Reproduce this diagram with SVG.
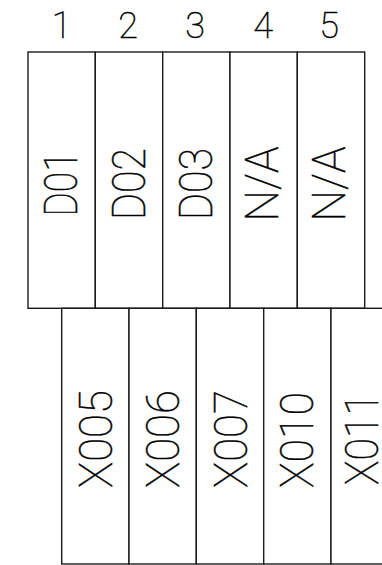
<svg xmlns="http://www.w3.org/2000/svg" width="382" height="565" viewBox="0 0 382 565">
<style>
.box{fill:#fff;stroke:#1a1a1a;stroke-width:1.4}
.num{font-family:Roboto,"Liberation Sans",sans-serif;font-weight:100;font-size:36px;fill:#000;stroke:#000;stroke-width:0.5;text-anchor:middle}
.lbl{font-family:Roboto,"Liberation Sans",sans-serif;font-weight:100;font-size:46px;fill:#000;stroke:#000;stroke-width:0.5;text-anchor:middle}
</style>
<rect width="382" height="565" fill="#fff"/>
<g id="numbers">
<text class="num" x="61.7" y="38">1</text>
<text class="num" x="128" y="38">2</text>
<text class="num" x="195" y="38">3</text>
<text class="num" x="263" y="38">4</text>
<text class="num" x="329" y="38">5</text>
</g>
<g id="top1"><rect class="box" x="28" y="52" width="67.3" height="256.3"/><text class="lbl" transform="translate(77.3 184) rotate(-90)" textLength="65" lengthAdjust="spacingAndGlyphs">D01</text></g>
<g id="top2"><rect class="box" x="95.3" y="52" width="67.4" height="256.3"/><text class="lbl" transform="translate(145 184) rotate(-90)" textLength="72" lengthAdjust="spacingAndGlyphs">D02</text></g>
<g id="top3"><rect class="box" x="162.7" y="52" width="67.3" height="256.3"/><text class="lbl" transform="translate(211.7 184) rotate(-90)" textLength="72" lengthAdjust="spacingAndGlyphs">D03</text></g>
<g id="top4"><rect class="box" x="230" y="52" width="67.3" height="256.3"/><text class="lbl" transform="translate(278.3 184) rotate(-90)" textLength="75" lengthAdjust="spacingAndGlyphs">N/A</text></g>
<g id="top5"><rect class="box" x="297.3" y="52" width="67.4" height="256.3"/><text class="lbl" transform="translate(345 184) rotate(-90)" textLength="75" lengthAdjust="spacingAndGlyphs">N/A</text></g>
<g id="bot1"><rect class="box" x="61.7" y="308.3" width="67.3" height="255.7"/><text class="lbl" transform="translate(111.7 439) rotate(-90)" textLength="98" lengthAdjust="spacingAndGlyphs">X005</text></g>
<g id="bot2"><rect class="box" x="129" y="308.3" width="67.3" height="255.7"/><text class="lbl" transform="translate(179.3 439) rotate(-90)" textLength="98" lengthAdjust="spacingAndGlyphs">X006</text></g>
<g id="bot3"><rect class="box" x="196.3" y="308.3" width="67.4" height="255.7"/><text class="lbl" transform="translate(246.7 439) rotate(-90)" textLength="98" lengthAdjust="spacingAndGlyphs">X007</text></g>
<g id="bot4"><rect class="box" x="263.7" y="308.3" width="67.3" height="255.7"/><text class="lbl" transform="translate(313.3 440) rotate(-90)" textLength="96" lengthAdjust="spacingAndGlyphs">X010</text></g>
<g id="bot5"><rect class="box" x="331" y="308.3" width="67.3" height="255.7"/><text class="lbl" transform="translate(377.5 439) rotate(-90)" textLength="92" lengthAdjust="spacingAndGlyphs">X011</text></g>
<g id="connectors"></g>
</svg>
